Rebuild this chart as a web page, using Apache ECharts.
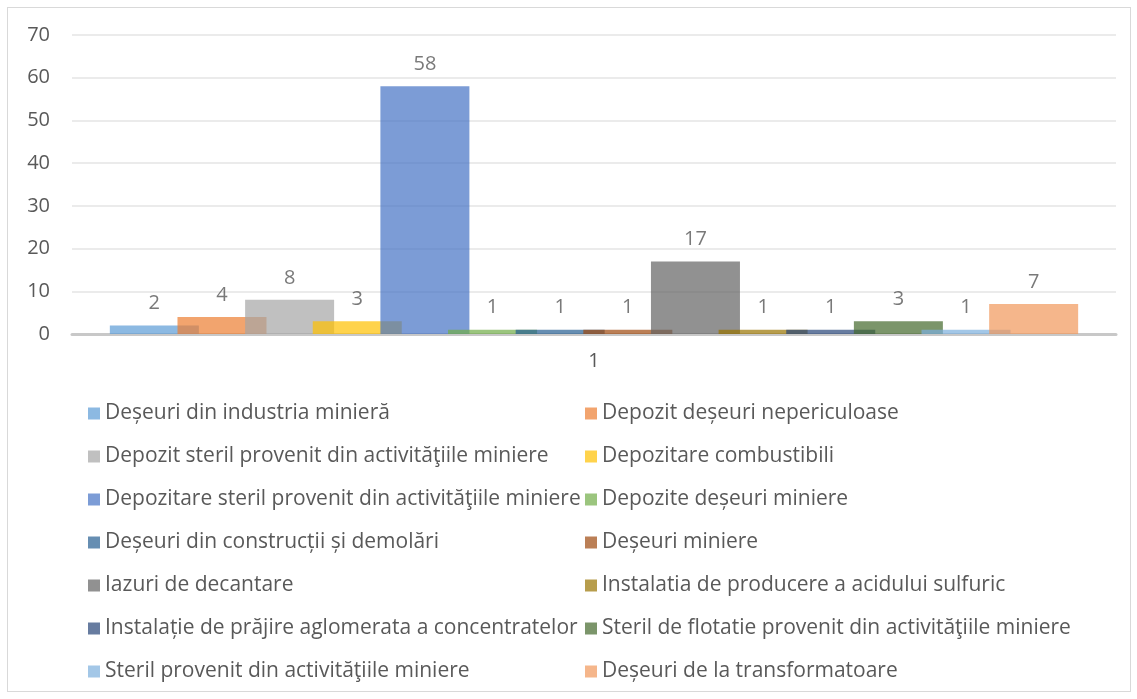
<!DOCTYPE html>
<html>
<head>
<meta charset="utf-8">
<script src="https://cdn.jsdelivr.net/npm/echarts@6/dist/echarts.min.js"></script>
<style>
  html, body { margin: 0; padding: 0; background: #fff; }
  #frame {
    position: absolute; left: 7px; top: 7px;
    width: 1122px; height: 683px;
    border: 1px solid #d9d9d9;
  }
  #chart { position: absolute; left: 0; top: 0; width: 1137px; height: 699px; }
</style>
</head>
<body>
<div id="frame"></div>
<div id="chart"></div>
<script>
const categories = ['1']

const seriesNames = [
  'Deșeuri din industria minieră',
  'Depozit deșeuri nepericuloase',
  'Depozit steril provenit din activităţiile miniere',
  'Depozitare combustibili',
  'Depozitare steril provenit din activităţiile miniere',
  'Depozite deșeuri miniere',
  'Deșeuri din construcții și demolări',
  'Deșeuri miniere',
  'Iazuri de decantare',
  'Instalatia de producere a acidului sulfuric',
  'Instalație de prăjire aglomerata a concentratelor',
  'Steril de flotatie provenit din activităţiile miniere',
  'Steril provenit din activităţiile miniere',
  'Deșeuri de la transformatoare'
]

const seriesValues = [2, 4, 8, 3, 58, 1, 1, 1, 17, 1, 1, 3, 1, 7]

const yTicks = [0, 10, 20, 30, 40, 50, 60, 70]

// office palette, drawn at 70% opacity like the original
const colors = [
  '#5b9bd5', '#ed7d31', '#a5a5a5', '#ffc000', '#4472c4', '#70ad47', '#255e91',
  '#9e480e', '#636363', '#997300', '#264478', '#43682b', '#7cafdd', '#f1975a'
]

const font = '"Open Sans", sans-serif'
const chart = echarts.init(document.getElementById('chart'))

const series = seriesNames.map((name, i) => ({
  name,
  type: 'bar',
  data: [seriesValues[i]],
  barWidth: 89,
  barGap: '-24%',
  itemStyle: { color: colors[i], opacity: 0.7 },
  label: {
    show: true,
    position: 'top',
    distance: 12,
    color: '#404040',
    fontSize: 20,
    fontFamily: font
  }
}))

const legendBase = {
  orient: 'vertical',
  top: 398,
  itemWidth: 12,
  itemHeight: 12,
  itemGap: 22,
  icon: 'rect',
  textStyle: { color: '#595959', fontSize: 21, fontFamily: font }
}

chart.setOption({
  animation: false,
  grid: { left: 72, right: 21, top: 35, bottom: 365, containLabel: false },
  legend: [
    Object.assign({}, legendBase, { left: 83, data: seriesNames.filter((_, i) => i % 2 === 0) }),
    Object.assign({}, legendBase, { left: 580, data: seriesNames.filter((_, i) => i % 2 === 1) })
  ],
  xAxis: {
    type: 'category',
    data: categories,
    axisLine: { lineStyle: { color: '#c8c8c8', width: 3 } },
    axisTick: { show: false },
    axisLabel: { color: '#595959', fontSize: 20, fontFamily: font, margin: 17 }
  },
  yAxis: {
    type: 'value',
    min: yTicks[0],
    max: yTicks[yTicks.length - 1],
    interval: 10,
    axisLine: { show: false },
    axisTick: { show: false },
    axisLabel: { color: '#595959', fontSize: 20, fontFamily: font, margin: 22 },
    splitLine: { lineStyle: { color: '#ebebeb', width: 2 } }
  },
  series
})
</script>
</body>
</html>
